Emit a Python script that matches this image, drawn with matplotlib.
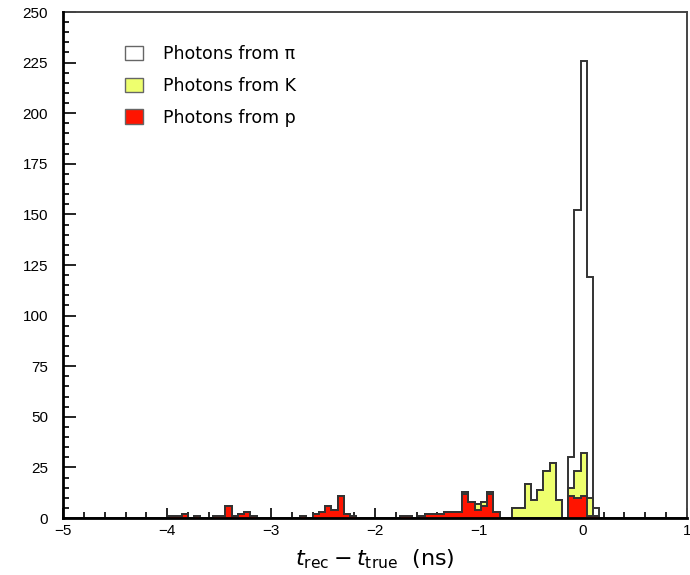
import numpy as np
import matplotlib
matplotlib.use("Agg")
import matplotlib.pyplot as plt
from matplotlib.patches import Patch
from matplotlib.ticker import MultipleLocator

# Histogram binning: 100 bins of 0.06 ns between -5 and 1 ns
x_min, x_max, n_bins = -5.0, 1.0, 100

# Counts per bin for each particle species
p_counts = [
    0, 0, 0, 0, 0, 0, 0, 0, 0, 0,
    0, 0, 0, 0, 0, 0, 0, 1, 1, 2,
    0, 1, 0, 0, 1, 1, 6, 1, 2, 3,
    1, 0, 0, 0, 0, 0, 0, 0, 1, 0,
    2, 3, 6, 4, 11, 2, 1, 0, 0, 0,
    0, 0, 0, 0, 1, 1, 0, 1, 2, 2,
    2, 3, 3, 3, 12, 8, 4, 6, 12, 3,
    0, 0, 0, 0, 0, 0, 0, 0, 0, 0,
    0, 11, 10, 11, 1, 1, 0, 0, 0, 0,
    0, 0, 0, 0, 0, 0, 0, 0, 0, 0,
]
k_counts = [0] * 60 + [
    0, 0, 0, 0, 1, 0, 3, 2, 1, 0,
    0, 0, 5, 5, 17, 9, 14, 23, 27, 9,
    0, 4, 13, 21, 9, 0, 0, 0, 0, 0,
] + [0] * 10
pi_counts = [0] * 80 + [
    0, 15, 129, 194, 109, 4, 0, 0, 0, 0,
] + [0] * 10

legend_labels = ["Photons from \u03c0", "Photons from K", "Photons from p"]
colors = {"pi": "white", "K": "#eeff6e", "p": "#ff1400"}
edge_col = "#333333"

edges = np.linspace(x_min, x_max, n_bins + 1)
p = np.array(p_counts, dtype=float)
k = np.array(k_counts, dtype=float)
pi = np.array(pi_counts, dtype=float)

fig = plt.figure(figsize=(6.9, 5.75), dpi=100)
ax = fig.add_axes([0.0917, 0.0991, 0.9035, 0.8800])

# stacked: total (pi+K+p), then K+p, then p
ax.stairs(pi + k + p, edges, fill=True, facecolor=colors["pi"],
          edgecolor=edge_col, linewidth=1.4, zorder=2)
ax.stairs(k + p, edges, fill=True, facecolor=colors["K"],
          edgecolor=edge_col, linewidth=1.4, zorder=3)
ax.stairs(p, edges, fill=True, facecolor=colors["p"],
          edgecolor=edge_col, linewidth=1.4, zorder=4)

ax.set_xlim(x_min, x_max)
ax.set_ylim(0, 250)

ax.xaxis.set_major_locator(MultipleLocator(1))
ax.xaxis.set_minor_locator(MultipleLocator(0.2))
ax.yaxis.set_major_locator(MultipleLocator(25))
ax.yaxis.set_minor_locator(MultipleLocator(5))

ax.tick_params(axis="both", which="both", direction="in", top=False,
               right=False, colors="black", width=1.2, zorder=6)
ax.tick_params(axis="y", which="major", length=9.5, pad=11)
ax.tick_params(axis="y", which="minor", length=4.5)
ax.tick_params(axis="x", which="major", length=7, pad=4)
ax.tick_params(axis="x", which="minor", length=4.5)
for lab in ax.get_xticklabels() + ax.get_yticklabels():
    lab.set_fontfamily("Liberation Sans")
    lab.set_fontsize(11)

for side in ("left", "bottom"):
    ax.spines[side].set_linewidth(2.0)
    ax.spines[side].set_color("black")
    ax.spines[side].set_zorder(7)
for side in ("top", "right"):
    ax.spines[side].set_linewidth(1.4)
    ax.spines[side].set_color("#444444")

ax.set_xlabel(r"$t_{\mathrm{rec}}-t_{\mathrm{true}}$  (ns)", fontsize=16,
              family="DejaVu Sans", labelpad=7)

handles = [Patch(facecolor=colors[s], edgecolor="#666666", linewidth=1.0)
           for s in ("pi", "K", "p")]
leg = ax.legend(handles, legend_labels, loc="upper left",
                bbox_to_anchor=(0.074, 0.966), frameon=False,
                prop={"family": "DejaVu Sans", "size": 12.5},
                handlelength=1.05, handleheight=0.9, handletextpad=1.15,
                labelspacing=0.8)

fig.savefig("out.png", dpi=100)
